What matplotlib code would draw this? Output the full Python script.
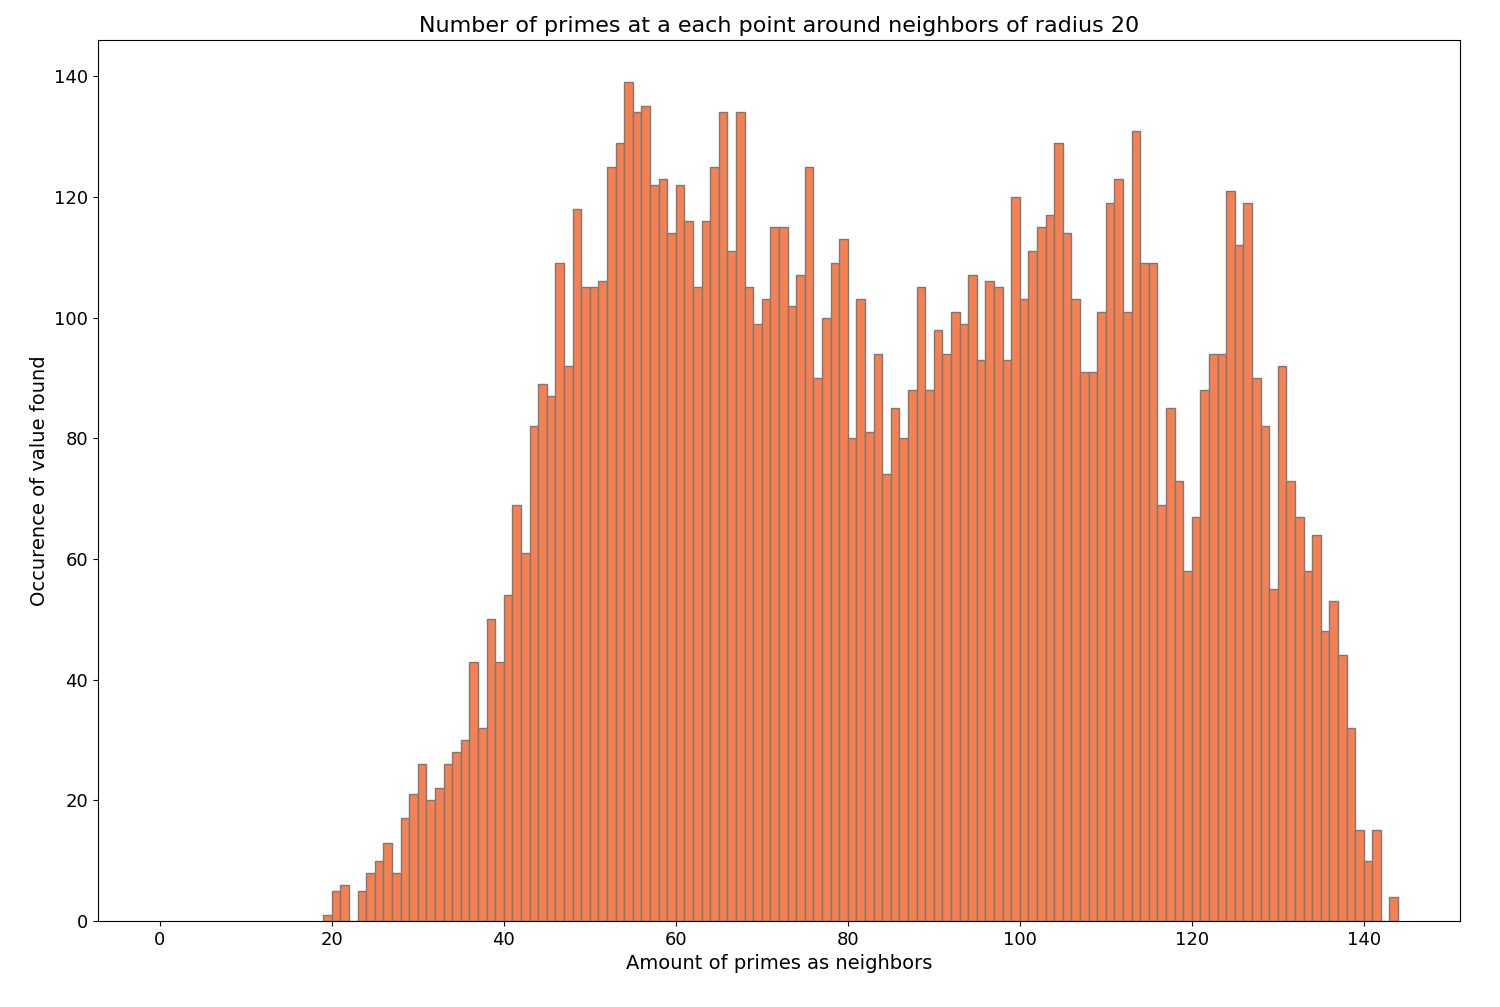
import matplotlib
matplotlib.use("Agg")
import matplotlib.pyplot as plt

start_bin = 19
counts = [1, 5, 6, 0, 5, 8, 10, 13, 8, 17, 21, 26, 20, 22, 26, 28, 30, 43, 32, 50,
          43, 54, 69, 61, 82, 89, 87, 109, 92, 118, 105, 105, 106, 125, 129, 139, 134, 135, 122, 123,
          114, 122, 116, 105, 116, 125, 134, 111, 134, 105, 99, 103, 115, 115, 102, 107, 125, 90, 100, 109,
          113, 80, 103, 81, 94, 74, 85, 80, 88, 105, 88, 98, 94, 101, 99, 107, 93, 106, 105, 93,
          120, 103, 111, 115, 117, 129, 114, 103, 91, 91, 101, 119, 123, 101, 131, 109, 109, 69, 85, 73,
          58, 67, 88, 94, 94, 121, 112, 119, 90, 82, 55, 92, 73, 67, 58, 64, 48, 53, 44, 32,
          15, 10, 15, 0, 4]
bins = list(range(start_bin, start_bin + len(counts)))

fig = plt.figure(figsize=(15, 10.07), dpi=100)
ax = fig.add_axes([98/1500, 1-921/1007, (1460-98)/1500, (921-40)/1007])
ax.bar(bins, counts, width=1, align='edge', color='#f68050', edgecolor='#7a7a7a', linewidth=1)
ax.set_xlim(-7.2, 151.2)
ax.set_ylim(0, 146)
ax.set_xticks(range(0, 141, 20))
ax.set_yticks(range(0, 141, 20))
ax.tick_params(labelsize=13)
ax.set_title("Number of primes at a each point around neighbors of radius 20", fontsize=16)
ax.set_xlabel("Amount of primes as neighbors", fontsize=14)
ax.set_ylabel("Occurence of value found", fontsize=14)
fig.savefig("out.png", dpi=100)
